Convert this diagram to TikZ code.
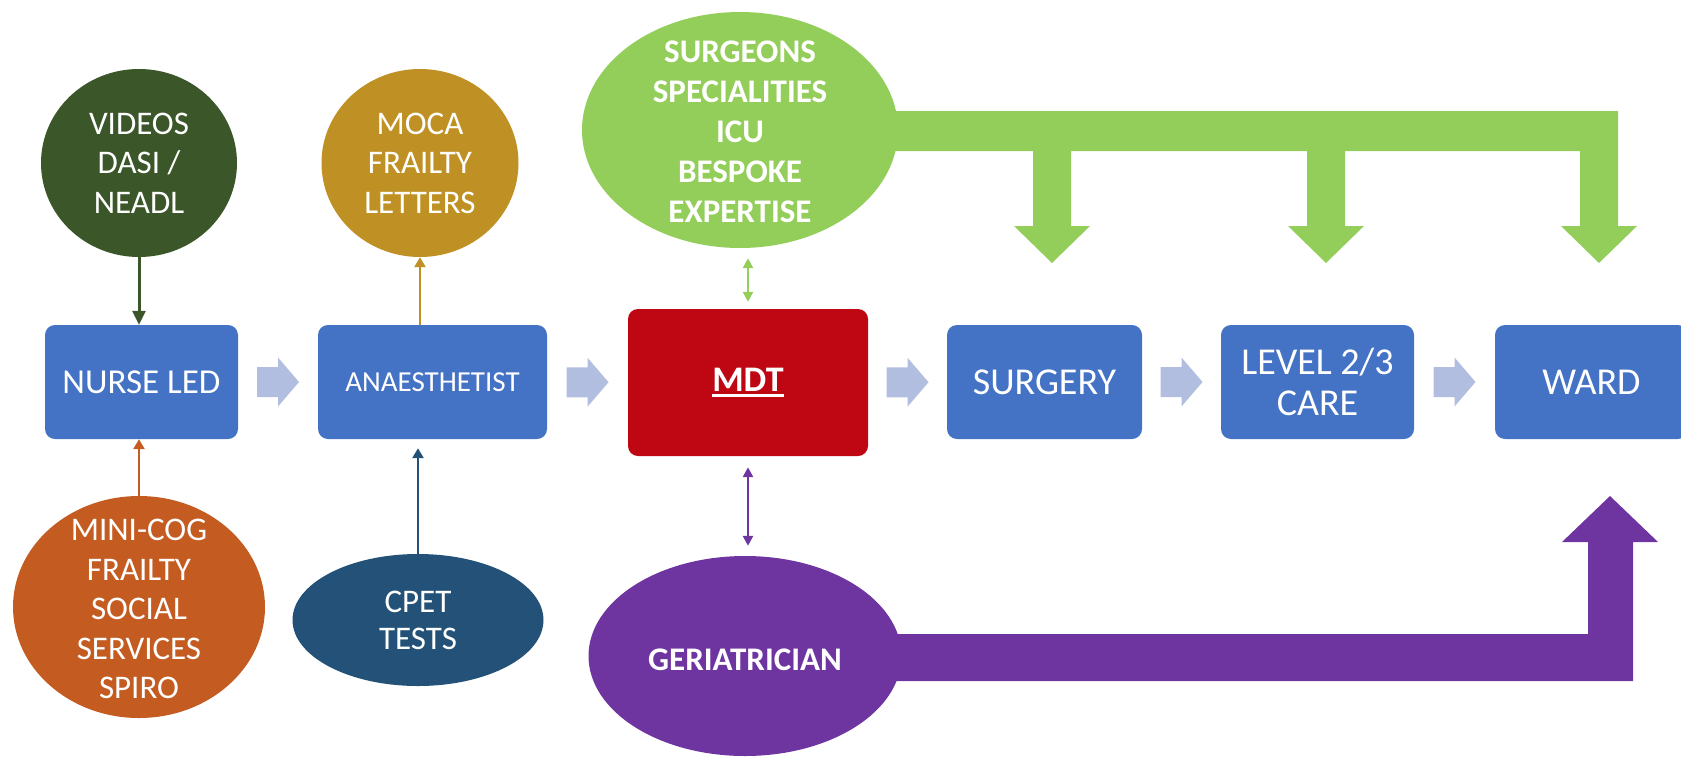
\documentclass[tikz,border=0pt]{standalone}
\usepackage{fontspec}
\setmainfont{Carlito}
\usetikzlibrary{shapes.geometric, arrows.meta, calc, backgrounds}

\definecolor{boxblue}{HTML}{4472C4}
\definecolor{mdtred}{HTML}{BE0712}
\definecolor{chevfill}{HTML}{B1BEDF}
\definecolor{videogreen}{HTML}{3B5628}
\definecolor{mocagold}{HTML}{BF9023}
\definecolor{minicog}{HTML}{C45C21}
\definecolor{cpetblue}{HTML}{245177}
\definecolor{geripurple}{HTML}{6E35A0}
\definecolor{teamgreen}{HTML}{94CE5A}

% thick underline for the MDT label
\newsavebox\ulinebox
\newcommand\thickul[1]{\sbox\ulinebox{#1}\leavevmode
  \rlap{\usebox\ulinebox}\raisebox{-5.5pt}{\rule{\wd\ulinebox}{2.6pt}}}

\begin{document}
\begin{tikzpicture}[
  x=1pt, y=-1pt,
  stepbox/.style={rectangle, rounded corners=10pt, fill=boxblue, text=white,
    inner sep=0pt, minimum height=114pt, align=center,
    font=\fontsize{38}{41}\selectfont},
  blob/.style={ellipse, inner sep=0pt},
  blobtext/.style={text=white, align=center, font=\fontsize{33}{39.5}\selectfont},
  blobbold/.style={blobtext, font=\fontsize{33}{40}\selectfont\bfseries},
  link/.style={line width=2.5pt, -{Triangle[width=11pt,length=10pt]}},
  dlink/.style={line width=2.5pt, {Triangle[width=10pt,length=10pt]}-{Triangle[width=10pt,length=10pt]}},
  flowchev/.pic={\fill[chevfill] (-21,-15) -- (0,-15) -- (0,-24.5) -- (21,0)
    -- (0,24.5) -- (0,15) -- (-21,15) -- cycle;}
]
\useasboundingbox (0,0) rectangle (1681,758);

% pathway boxes
\node[stepbox, minimum width=193pt, font=\fontsize{35}{40}\selectfont] (nurse) at (141.5,382) {NURSE LED};
\node[stepbox, minimum width=229pt, font=\fontsize{29}{34}\selectfont] (anaes) at (432.5,382) {ANAESTHETIST};
\node[stepbox, minimum width=240pt, minimum height=147pt, fill=mdtred,
      font=\fontsize{36}{40}\selectfont\bfseries] (mdt) at (748,382.5) {\thickul{MDT}};
\node[stepbox, minimum width=195pt] (surgery) at (1044.5,382) {SURGERY};
\node[stepbox, minimum width=193pt] (level) at (1317.5,382) {LEVEL 2/3\\CARE};
\node[stepbox, minimum width=193pt] (ward) at (1591.5,382) {WARD};

% flow chevrons between the boxes
\pic at ($(nurse.east)!0.5!(anaes.west)$) {flowchev};
\pic at ($(anaes.east)!0.5!(mdt.west)$) {flowchev};
\pic at ($(mdt.east)!0.5!(surgery.west)$) {flowchev};
\pic at ($(surgery.east)!0.5!(level.west)$) {flowchev};
\pic at ($(level.east)!0.5!(ward.west)$) {flowchev};

% input ellipses
\node[blob, fill=videogreen, minimum width=196pt, minimum height=188pt,
      label={[blobtext]center:{VIDEOS\\DASI /\\NEADL}}] (videos) at (139,163) {};
\node[blob, fill=mocagold, minimum width=197pt, minimum height=188pt,
      label={[blobtext]center:{MOCA\\FRAILTY\\LETTERS}}] (moca) at (420,163) {};
\node[blob, fill=teamgreen, minimum width=316pt, minimum height=236pt,
      label={[blobbold, yshift=-2pt]center:{SURGEONS\\SPECIALITIES\\ICU\\BESPOKE\\EXPERTISE}}] (team) at (740,130) {};
\node[blob, fill=minicog, minimum width=252pt, minimum height=222pt,
      label={[blobtext, yshift=-2pt]center:{MINI-COG\\FRAILTY\\SOCIAL\\SERVICES\\SPIRO}}] (mini) at (139,607) {};
\node[blob, fill=cpetblue, minimum width=251pt, minimum height=132pt,
      label={[blobtext, font=\fontsize{33}{37}\selectfont]center:{CPET\\TESTS}}] (cpet) at (418,620) {};
\node[blob, fill=geripurple, minimum width=313pt, minimum height=200pt,
      label={[blobbold, yshift=-4pt]center:{GERIATRICIAN}}] (geri) at (745,656) {};

% block arrows from the specialist team and the geriatrician
\begin{scope}[on background layer]
  \fill[teamgreen] (740,111) -- (1618,111) -- (1618,226) -- (1637,226) -- (1599,263)
    -- (1561,226) -- (1580,226) -- (1580,151) -- (1345,151) -- (1345,226)
    -- (1364,226) -- (1326,263) -- (1288,226) -- (1307,226) -- (1307,151)
    -- (1071,151) -- (1071,226) -- (1090,226) -- (1052,263) -- (1014,226)
    -- (1033,226) -- (1033,151) -- (740,151) -- cycle;
  \fill[geripurple] (745,634) -- (1588,634) -- (1588,542) -- (1562,542)
    -- (1610,496) -- (1658,542) -- (1633,542) -- (1633,681) -- (745,681) -- cycle;
\end{scope}

% thin connectors
\draw[link, videogreen, line width=3pt, -{Triangle[width=13pt,length=14pt]}]
  (videos.south) -- (videos.south |- nurse.north);
\draw[link, minicog] (mini.north) -- (mini.north |- nurse.south);
\draw[link, mocagold] (moca.south |- anaes.north) -- (moca.south);
\draw[link, cpetblue, shorten >=9pt] (cpet.north) -- (cpet.north |- anaes.south);
\draw[dlink, teamgreen, shorten <=10pt, shorten >=7pt] (team.south -| mdt.north) -- (mdt.north);
\draw[dlink, geripurple, shorten <=11pt, shorten >=10pt] (mdt.south) -- (mdt.south |- geri.north);
\end{tikzpicture}
\end{document}
